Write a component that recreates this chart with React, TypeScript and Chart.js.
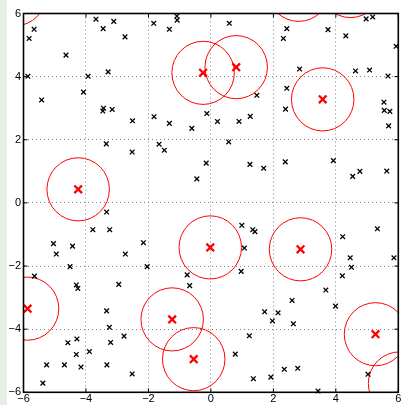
import { useEffect, useRef } from 'react';
import { Chart, registerables } from 'chart.js';

Chart.register(...registerables);

// Sample points (black crosses)
const sampleX = [
  -5.66, -5.82, -4.64, -5.86, -5.42, -3.93, -4.08, -3.68, -3.45, -3.11,
  -2.75, -3.29, -3.44, -3.46, -3.16, -2.51, -1.83, -1.33, -1.09, -1.08,
  0.59, 1.47, -1.82, -1.33, -0.61, -0.13, 0.21, 0.9, 1.26, 2.43,
  2.32, 3.75, 4.32, 4.97, 5.18, 5.93, 2.84, 4.63, 5.08, 5.67,
  2.43, 2.39, 5.54, 5.55, 5.73, 5.69, -3.35, -2.52, -3.34, -3.78,
  -3.24, -5.04, -4.95, -4.43, -2.74, -4.51, -1.66, -1.49, 0.57, -0.15,
  -0.45, 1.25, 1.69, 0.99, 1.34, 1.41, 1.07, -2.16, -2.04, 2.38,
  3.92, 4.54, 4.77, 5.63, 5.33, 4.22, 4.46, 5.86, 4.5, -5.65,
  -4.31, -4.26, -2.95, -3.34, -3.25, -2.78, -3.21, -4.29, -4.58, -4.31,
  -3.89, -5.26, -4.69, -4.16, -3.33, -2.52, -5.38, -0.76, -0.68, 0.97,
  1.72, 1.23, 0.78, 1.36, 4.21, 3.68, 2.6, 2.15, 1.97, 2.64,
  3.99, 2.35, 2.78, 1.92, 3.43, 5.03,
];
const sampleY = [
  5.5, 5.21, 4.68, 4.01, 3.26, 4.01, 3.51, 5.82, 5.52, 5.75,
  5.26, 4.15, 3.0, 2.91, 2.96, 2.6, 5.69, 5.5, 5.92, 5.79,
  5.69, 3.41, 2.73, 2.52, 2.36, 2.83, 2.58, 2.58, 2.74, 5.52,
  5.21, 5.49, 5.29, 5.83, 5.89, 4.96, 4.24, 4.18, 4.21, 4.02,
  3.63, 2.97, 3.19, 2.93, 2.9, 2.44, 1.87, 1.61, -0.29, -0.85,
  -0.85, -1.29, -1.62, -1.37, -1.62, -2.02, 1.86, 1.67, 1.93, 1.26,
  0.76, 1.22, 1.1, -0.71, -0.85, -0.91, -1.43, -1.26, -2.02, 1.3,
  1.34, 0.84, 1.0, 1.01, -0.82, -1.07, -1.74, -1.74, -2.04, -2.32,
  -2.6, -2.71, -2.58, -3.42, -3.94, -4.22, -4.42, -4.31, -4.43, -4.8,
  -4.71, -5.13, -5.13, -5.2, -5.13, -5.42, -5.71, -2.28, -2.62, -2.17,
  -3.45, -4.21, -4.79, -5.57, -2.31, -2.76, -3.09, -3.48, -3.74, -3.83,
  -3.27, -5.27, -5.24, -5.52, -5.96, -5.43,
];

// Centres (red crosses), each with a circle of radius circleRadius
const centreX = [-4.25, -0.25, 0.81, 3.58, -0.02, 2.87, -1.24, -0.55, 5.27, -5.87, -6.27, 2.81, 4.47, 6.04];
const centreY = [0.43, 4.12, 4.3, 3.28, -1.41, -1.47, -3.69, -4.95, -4.16, -3.35, 6.61, 6.75, 6.87, -5.72];
const circleRadius = 1;

const axisMin = -6;
const axisMax = 6;
const axisTicks = [-6, -4, -2, 0, 2, 4, 6];

const fmt = (v: number) => (v < 0 ? '\u2212' + Math.abs(v) : String(v));

const overlay = {
  id: 'overlay',
  beforeDatasetsDraw(chart: any) {
    const { ctx, chartArea: a, scales } = chart;
    const xs = scales.x;
    const ys = scales.y;
    ctx.save();
    ctx.beginPath();
    ctx.rect(a.left, a.top, a.right - a.left, a.bottom - a.top);
    ctx.clip();
    ctx.strokeStyle = '#ff0000';
    ctx.lineWidth = 1;
    centreX.forEach((cx, i) => {
      const cy = centreY[i];
      const px = xs.getPixelForValue(cx);
      const py = ys.getPixelForValue(cy);
      const rx = Math.abs(xs.getPixelForValue(cx + circleRadius) - px);
      const ry = Math.abs(ys.getPixelForValue(cy + circleRadius) - py);
      ctx.beginPath();
      ctx.ellipse(px, py, rx, ry, 0, 0, Math.PI * 2);
      ctx.stroke();
    });
    ctx.restore();
  },
  afterDatasetsDraw(chart: any) {
    const { ctx, chartArea: a, scales } = chart;
    const xs = scales.x;
    const ys = scales.y;
    const len = 4;
    ctx.save();
    ctx.strokeStyle = '#000';
    ctx.lineWidth = 1;
    ctx.beginPath();
    axisTicks.forEach((v) => {
      const px = xs.getPixelForValue(v);
      ctx.moveTo(px, a.bottom);
      ctx.lineTo(px, a.bottom - len);
      ctx.moveTo(px, a.top);
      ctx.lineTo(px, a.top + len);
      const py = ys.getPixelForValue(v);
      ctx.moveTo(a.left, py);
      ctx.lineTo(a.left + len, py);
      ctx.moveTo(a.right, py);
      ctx.lineTo(a.right - len, py);
    });
    ctx.stroke();
    ctx.lineWidth = 1.6;
    ctx.strokeRect(a.left, a.top, a.right - a.left, a.bottom - a.top);
    ctx.restore();
  },
};

const tickFont = { family: "'Liberation Sans', Arial, sans-serif", size: 11 };

export default function App() {
  const ref = useRef<HTMLCanvasElement | null>(null);

  useEffect(() => {
    if (!ref.current) return;
    const inRange = (v: number) => v >= axisMin && v <= axisMax;
    const samples = sampleX.map((x, i) => ({ x, y: sampleY[i] }));
    const centres = centreX
      .map((x, i) => ({ x, y: centreY[i] }))
      .filter((p) => inRange(p.x) && inRange(p.y));

    const chart = new Chart(ref.current, {
      type: 'scatter',
      data: {
        datasets: [
          {
            label: 'centres',
            data: centres,
            pointStyle: 'crossRot',
            pointRadius: 5.4,
            borderColor: '#ff0000',
            backgroundColor: 'transparent',
            borderWidth: 2.3,
            clip: false as any,
          },
          {
            label: 'samples',
            data: samples,
            pointStyle: 'crossRot',
            pointRadius: 3.3,
            borderColor: '#000000',
            backgroundColor: 'transparent',
            borderWidth: 1.3,
            clip: false as any,
          },
        ],
      },
      options: {
        animation: false,
        responsive: false,
        devicePixelRatio: 1,
        events: [],
        layout: { padding: { left: 0, right: 2.5, top: 13.5, bottom: 0 } },
        plugins: { legend: { display: false }, tooltip: { enabled: false } },
        scales: {
          x: {
            type: 'linear',
            min: axisMin,
            max: axisMax,
            afterBuildTicks: (s: any) => {
              s.ticks = axisTicks.map((value) => ({ value }));
            },
            afterFit: (s: any) => {
              s.height = 12.7;
              s.paddingLeft = 0;
              s.paddingRight = 0;
            },
            ticks: {
              callback: (v: any) => fmt(Number(v)),
              font: tickFont,
              color: '#000',
              padding: 0,
              maxRotation: 0,
              autoSkip: false,
            },
            grid: { color: '#808080', lineWidth: 1, drawTicks: false },
            border: { display: false, dash: [1, 3] },
          },
          y: {
            type: 'linear',
            min: axisMin,
            max: axisMax,
            afterBuildTicks: (s: any) => {
              s.ticks = axisTicks.map((value) => ({ value }));
            },
            afterFit: (s: any) => {
              s.width = 23.5;
              s.paddingTop = 0;
              s.paddingBottom = 0;
            },
            ticks: {
              callback: (v: any) => fmt(Number(v)),
              font: tickFont,
              color: '#000',
              padding: 2.5,
              autoSkip: false,
            },
            grid: { color: '#808080', lineWidth: 1, drawTicks: false },
            border: { display: false, dash: [1, 3] },
          },
        },
      },
      plugins: [overlay],
    });
    return () => chart.destroy();
  }, []);

  return (
    <div
      style={{
        position: 'fixed',
        left: 0,
        top: 0,
        width: 406,
        height: 405,
        background: '#ffffff',
        overflow: 'hidden',
      }}
    >
      <div
        style={{
          position: 'absolute',
          left: 0,
          top: 0,
          width: 7,
          height: 405,
          background: '#e6efe3',
        }}
      />
      <canvas
        ref={ref}
        width={406}
        height={405}
        style={{ position: 'absolute', left: 0, top: 0, width: 406, height: 405 }}
      />
    </div>
  );
}
